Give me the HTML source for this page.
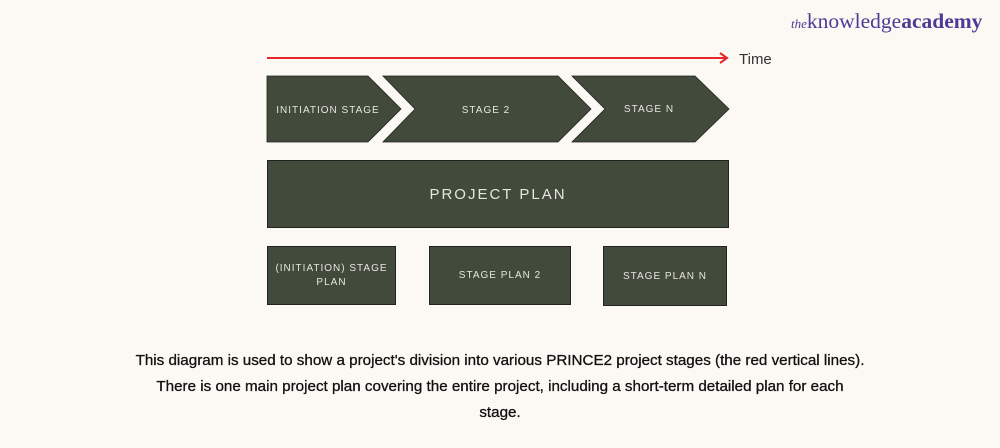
<!DOCTYPE html>
<html><head><style>
body{margin:0;background:#fcf8f3;width:1000px;height:448px;overflow:hidden;position:relative;font-family:"Liberation Sans",sans-serif}
.b{position:absolute;background:#414a3b;border:1px solid #222;color:#e6e6e0;display:flex;align-items:center;justify-content:center;text-align:center;letter-spacing:1px;font-size:10px;box-sizing:border-box}
.cap{position:absolute;left:0;width:1000px;top:348px;text-align:center;font-size:15.2px;line-height:26px;color:#111;-webkit-text-stroke:0.3px #111}
</style></head><body>
<div style="position:absolute;left:791px;top:9px;font-family:'Liberation Serif',serif;font-size:21.5px;color:#4b3c96;white-space:nowrap"><i style="font-size:13px">the</i>knowledge<b>academy</b></div>
<svg width="1000" height="448" style="position:absolute;left:0;top:0">
<line x1="267" y1="58" x2="727" y2="58" stroke="#e8262a" stroke-width="2"/>
<polyline points="720,53 727,58 720,63" fill="none" stroke="#e8262a" stroke-width="2"/>
<text x="739" y="64" font-size="15" fill="#333" font-family="Liberation Sans">Time</text>
<g fill="#414a3b" stroke="#222" stroke-width="0.8">
<polygon points="267,76 368,76 401,109 368,142 267,142"/>
<polygon points="383,76 558,76 591,109 558,142 383,142 415,109"/>
<polygon points="572,76 695,76 729,109 695,142 572,142 605,109"/>
</g>
<g fill="#e6e6e0" font-size="10" font-family="Liberation Sans" letter-spacing="1" text-anchor="middle">
<text x="328" y="113">INITIATION STAGE</text>
<text x="486" y="113">STAGE 2</text>
<text x="649" y="112">STAGE N</text>
</g>
</svg>
<div class="b" style="left:267px;top:160px;width:462px;height:68px;font-size:15px;letter-spacing:2px">PROJECT PLAN</div>
<div class="b" style="left:267px;top:246px;width:129px;height:59px;line-height:14px">(INITIATION) STAGE<br>PLAN</div>
<div class="b" style="left:429px;top:246px;width:142px;height:59px">STAGE PLAN 2</div>
<div class="b" style="left:603px;top:246px;width:124px;height:60px">STAGE PLAN N</div>
<div class="cap">This diagram is used to show a project's division into various PRINCE2 project stages (the red vertical lines).<br>There is one main project plan covering the entire project, including a short-term detailed plan for each<br>stage.</div>
</body></html>
